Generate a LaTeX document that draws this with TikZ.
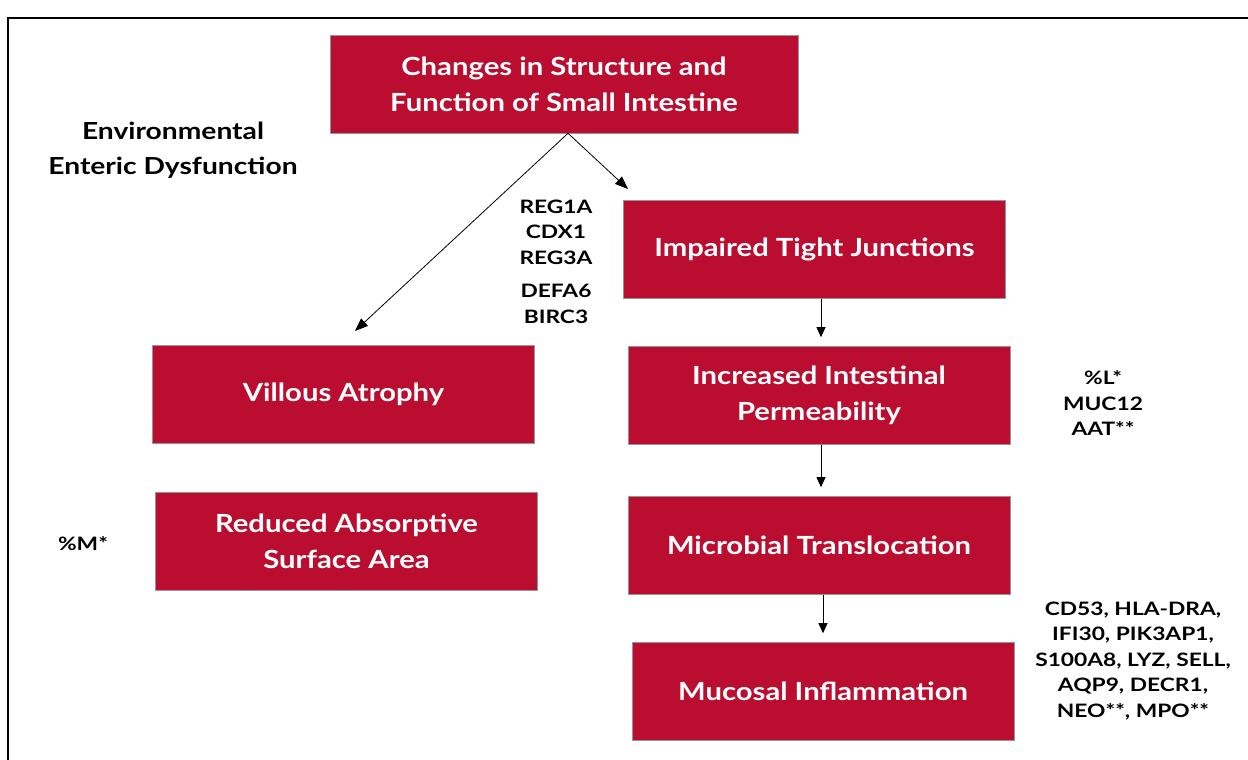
\documentclass[tikz,border=0pt]{standalone}
\usepackage{fontspec}
\setmainfont{Lato}
\newfontfamily\eedboxfont{Lato}[FakeStretch=1.17]
\newfontfamily\eedgenefont{Lato}[FakeStretch=1.23]
\newfontfamily\eedtitlefont{Lato}[FakeStretch=1.2]
\usepackage{tikz}
\usetikzlibrary{arrows.meta, positioning, calc}
\definecolor{eedred}{RGB}{186,13,47}
\definecolor{eededge}{RGB}{150,150,150}
\tikzset{
    eedbox/.style={rectangle, draw=eededge, fill=eedred, line width=0.6pt, minimum width=382pt, minimum height=98pt, align=center, text=white, font=\eedboxfont\bfseries\fontsize{25}{36}\selectfont, inner sep=0pt},
    eedarrow/.style={-{Triangle[length=13pt, width=10pt]}, black, line width=0.8pt},
    eedvarrow/.style={-{Triangle[length=10pt, width=9pt]}, black, line width=0.8pt},
    eedgenes/.style={font=\eedgenefont\bfseries\fontsize{18.5}{25.5}\selectfont, align=center, text=black, inner sep=0pt},
    eedtitle/.style={font=\eedtitlefont\bfseries\fontsize{23.5}{35}\selectfont, align=center, text=black, inner sep=0pt}
}

\begin{document}
\begin{tikzpicture}[x=1pt, y=-1pt]

\useasboundingbox (0,0) rectangle (1248,760);
\fill[white] (0,0) rectangle (1248,760);
\draw[line width=2pt] (8,760) -- (8,18) -- (1248,18);

\node[eedbox, minimum width=468pt] (top) at (564,84) {Changes in Structure and\\Function of Small Intestine};
\node[eedtitle] (eed) at (173,150) {Environmental\\Enteric Dysfunction};

\node[eedbox] (tight) at (814.5,249.5) {Impaired Tight Junctions};
\node[eedbox] (villous) at (343.5,394) {Villous Atrophy};
\node[eedbox] (perm) at (819,395.5) {Increased Intestinal\\Permeability};
\node[eedbox] (reduced) at (346.5,541.5) {Reduced Absorptive\\Surface Area};
\node[eedbox] (microbe) at (819,545.5) {Microbial Translocation};
\node[eedbox] (inflam) at (823,691.5) {Mucosal Inflammation};

% gene markers
\node[eedgenes] (genes1) at (556,232) {REG1A\\CDX1\\REG3A};
\node[eedgenes] (genes2) at (556,304) {DEFA6\\BIRC3};
\node[eedgenes] (genes3) at (1103,403) {\%L*\\MUC12\\AAT**};
\node[eedgenes] (genes4) at (83,544) {\%M*};
\node[eedgenes] (genes5) at (1133,661) {CD53, HLA-DRA,\\IFI30, PIK3AP1,\\S100A8, LYZ, SELL,\\AQP9, DECR1,\\NEO**, MPO**};

\coordinate (vtip) at (355,331);
\coordinate (ttip) at (628,189);
\draw[eedarrow] ($(top.south)+(4,0)$) -- (vtip);
\draw[eedarrow] ($(top.south)+(4,0)$) -- (ttip);

\draw[eedvarrow, shorten >=9pt] (tight.south -| 821,0) -- (perm.north -| 821,0);
\draw[eedvarrow, shorten >=9pt] (perm.south -| 821,0) -- (microbe.north -| 821,0);
\draw[eedvarrow, shorten >=9pt] (microbe.south -| 823,0) -- (inflam.north -| 823,0);

\end{tikzpicture}
\end{document}
